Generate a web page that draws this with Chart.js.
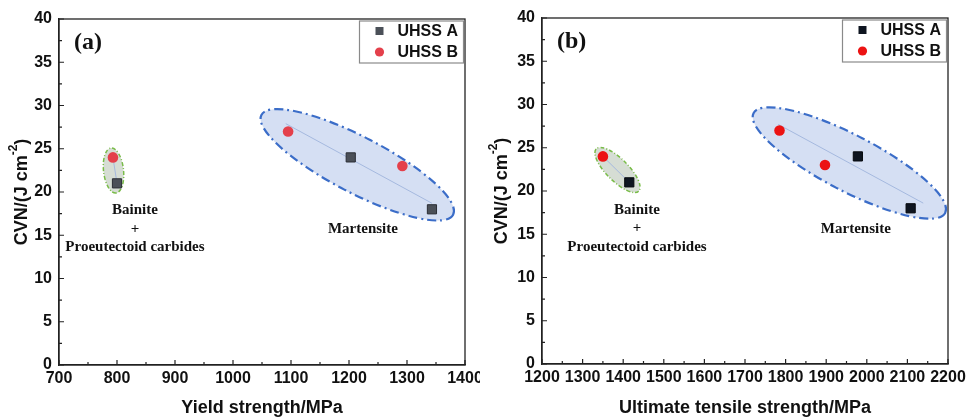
<!DOCTYPE html>
<html>
<head>
<meta charset="utf-8">
<script src="https://cdn.jsdelivr.net/npm/chart.js@4/dist/chart.umd.min.js"></script>
<style>
  html, body { margin: 0; padding: 0; background: #fff; }
  #wrap { position: relative; width: 966px; height: 418px; }
  .panel { position: absolute; top: 0; height: 418px; }
  #panelA { left: 0; width: 480px; }
  #panelB { left: 480px; width: 486px; }
</style>
</head>
<body>
<div id="wrap">
  <div class="panel" id="panelA"><canvas id="chartA" width="480" height="418"></canvas></div>
  <div class="panel" id="panelB"><canvas id="chartB" width="486" height="418"></canvas></div>
</div>
<script>
// values
const seriesNames = ["UHSS A", "UHSS B"];
const cvnA = [21, 24, 18]; // J cm-2
const cvnB = [24, 27, 23];
const yieldA = [800, 1203, 1343]; // MPa
const yieldB = [793, 1095, 1292];
const utsA = [1415, 1978, 2108];
const utsB = [1350, 1785, 1897];

// trend lines inside the shaded groups
const yieldMartX = [1091, 1343], yieldMartY = [27.9, 18.7];
const yieldBainX = [793, 800], yieldBainY = [24, 21];
const utsMartX = [1782, 2139], utsMartY = [27.7, 18.6];
const utsBainX = [1350, 1415], utsBainY = [24, 21];

// axis ranges: min, max, step
const cvnRange = [0, 40, 5];
const yieldRange = [700, 1400, 100];
const utsRange = [1200, 2200, 100];

const pts = (xs, ys) => xs.map((x, i) => ({ x: x, y: ys[i] }));

Chart.defaults.font.family = "'Liberation Sans', Arial, sans-serif";

const deco = {
  id: "deco",
  beforeDatasetsDraw(chart, args, o) {
    const ctx = chart.ctx, xs = chart.scales.x, ys = chart.scales.y;
    for (const e of o.ellipses) {
      const x1 = xs.getPixelForValue(e.from[0]), y1 = ys.getPixelForValue(e.from[1]);
      const x2 = xs.getPixelForValue(e.to[0]), y2 = ys.getPixelForValue(e.to[1]);
      ctx.save();
      ctx.beginPath();
      ctx.ellipse((x1 + x2) / 2, (y1 + y2) / 2, Math.hypot(x2 - x1, y2 - y1) / 2, e.minor,
        Math.atan2(y2 - y1, x2 - x1), 0, Math.PI * 2);
      ctx.fillStyle = e.fill;
      ctx.fill();
      ctx.setLineDash(e.dash);
      ctx.lineWidth = e.width;
      ctx.strokeStyle = e.stroke;
      ctx.stroke();
      ctx.restore();
    }
  },
  afterDraw(chart, args, o) {
    const ctx = chart.ctx, a = chart.chartArea, xs = chart.scales.x, ys = chart.scales.y;
    ctx.save();
    // box round the plot
    ctx.strokeStyle = "#222";
    ctx.lineWidth = 1.3;
    ctx.strokeRect(a.left, a.top, a.right - a.left, a.bottom - a.top);

    // ticks pointing inwards, minor ones half way
    ctx.lineWidth = 1.2;
    const marks = (scale, draw) => {
      const v = scale.ticks.map((t) => t.value);
      v.forEach((val, i) => {
        draw(scale.getPixelForValue(val), 5);
        if (i < v.length - 1) draw(scale.getPixelForValue((val + v[i + 1]) / 2), 3);
      });
    };
    ctx.beginPath();
    marks(xs, (p, len) => { ctx.moveTo(p, a.bottom); ctx.lineTo(p, a.bottom - len); });
    marks(ys, (p, len) => { ctx.moveTo(a.left, p); ctx.lineTo(a.left + len, p); });
    ctx.stroke();

    // group names
    ctx.fillStyle = "#111";
    ctx.font = "bold 15px 'Liberation Serif', 'Times New Roman', serif";
    ctx.textAlign = "center";
    ctx.textBaseline = "middle";
    for (const l of o.labels) {
      const px = xs.getPixelForValue(l.at[0]), py = ys.getPixelForValue(l.at[1]);
      l.lines.forEach((t, i) => ctx.fillText(t, px, py + i * 18.5));
    }

    // panel letter
    ctx.font = "bold 24px 'Liberation Serif', 'Times New Roman', serif";
    ctx.textAlign = "left";
    ctx.fillText(o.letter, a.left + 15, a.top + 24);

    // axis titles
    ctx.font = "bold 18px 'Liberation Sans', Arial, sans-serif";
    ctx.textAlign = "center";
    ctx.fillText(o.xTitle, (a.left + a.right) / 2, 408);

    ctx.save();
    ctx.translate(22, (a.top + a.bottom) / 2);
    ctx.rotate(-Math.PI / 2);
    const main = "CVN/(J cm", sup = "-2", close = ")";
    const bigF = "bold 18px 'Liberation Sans', Arial, sans-serif";
    const smallF = "bold 12px 'Liberation Sans', Arial, sans-serif";
    ctx.font = bigF;
    const w1 = ctx.measureText(main).width, w3 = ctx.measureText(close).width;
    ctx.font = smallF;
    const w2 = ctx.measureText(sup).width;
    let x = -(w1 + w2 + w3) / 2;
    ctx.textAlign = "left";
    ctx.font = bigF;
    ctx.fillText(main, x, 0);
    x += w1;
    ctx.font = smallF;
    ctx.fillText(sup, x, -8);
    x += w2;
    ctx.font = bigF;
    ctx.fillText(close, x, 0);
    ctx.restore();

    // legend box
    const bw = 104, bh = 42;
    const bx = a.right - 1.5 - bw, by = a.top + 2;
    ctx.fillStyle = "#fff";
    ctx.fillRect(bx, by, bw, bh);
    ctx.strokeStyle = "#8a8a8a";
    ctx.lineWidth = 1.2;
    ctx.strokeRect(bx, by, bw, bh);
    const sets = chart.data.datasets.filter((d) => seriesNames.includes(d.label));
    sets.forEach((d, i) => {
      const cy = by + 10 + i * 21, cx = bx + 20;
      ctx.fillStyle = d.backgroundColor;
      ctx.beginPath();
      if (d.pointStyle === "rect") ctx.rect(cx - 4, cy - 4, 8, 8);
      else ctx.arc(cx, cy, 4.6, 0, Math.PI * 2);
      ctx.fill();
      ctx.fillStyle = "#111";
      ctx.font = "bold 16px 'Liberation Sans', Arial, sans-serif";
      ctx.textAlign = "left";
      ctx.textBaseline = "middle";
      ctx.fillText(d.label, bx + 38, cy + 1);
    });
    ctx.restore();
  },
};

function makeChart(id, o) {
  const tickFont = { size: 16, weight: "bold" };
  const plain = (v) => String(v);
  return new Chart(document.getElementById(id), {
    type: "scatter",
    data: {
      datasets: [
        { label: "trend", type: "line", data: pts(o.martX, o.martY), borderColor: "#a5b9df",
          borderWidth: 1, pointRadius: 0, order: 3 },
        { label: "trend2", type: "line", data: pts(o.bainX, o.bainY), borderColor: "#a5b9df",
          borderWidth: 1, pointRadius: 0, order: 3 },
        { label: seriesNames[0], data: pts(o.xA, cvnA), pointStyle: "rect", pointRadius: 6.5,
          backgroundColor: o.colA, borderColor: o.edgeA, borderWidth: 1, order: 1 },
        { label: seriesNames[1], data: pts(o.xB, cvnB), pointStyle: "circle", pointRadius: 5.3,
          backgroundColor: o.colB, borderColor: o.colB, borderWidth: 0, order: 1 },
      ],
    },
    options: {
      responsive: false,
      animation: false,
      layout: { padding: { top: o.top, right: o.right, left: 0, bottom: 0 } },
      plugins: {
        legend: { display: false },
        tooltip: { enabled: false },
        deco: { ellipses: o.ellipses, labels: o.labels, letter: o.letter, xTitle: o.xTitle },
      },
      scales: {
        x: {
          type: "linear", min: o.xRange[0], max: o.xRange[1],
          ticks: { stepSize: o.xRange[2], font: tickFont, color: "#111", padding: 4,
            maxRotation: 0, autoSkip: false, callback: plain },
          grid: { display: false, drawTicks: false },
          border: { color: "#222", width: 1.3 },
          afterFit(s) { s.height = o.xH; s.paddingLeft = 0; s.paddingRight = 0; },
        },
        y: {
          min: cvnRange[0], max: cvnRange[1],
          ticks: { stepSize: cvnRange[2], font: tickFont, color: "#111", padding: 7, callback: plain },
          grid: { display: false, drawTicks: false },
          border: { color: "#222", width: 1.3 },
          afterFit(s) { s.width = o.yW; s.paddingTop = 0; s.paddingBottom = 0; },
        },
      },
    },
    plugins: [deco],
  });
}

const blueZone = { fill: "#d5dff3", stroke: "#3b6dc8", width: 2.2, dash: [9, 4, 2, 4] };
const greenZone = { fill: "#d6ddd4", stroke: "#79bc48", width: 1.5, dash: [4, 2, 1, 2] };

makeChart("chartA", {
  xA: yieldA, xB: yieldB, xRange: yieldRange,
  martX: yieldMartX, martY: yieldMartY, bainX: yieldBainX, bainY: yieldBainY,
  colA: "#4b5058", edgeA: "#2b2e35", colB: "#e4404b",
  top: 19, right: 15, xH: 53, yW: 59,
  letter: "(a)", xTitle: "Yield strength/MPa",
  ellipses: [
    Object.assign({ from: [1049, 28.91], to: [1379.5, 17.38], minor: 28 }, blueZone),
    Object.assign({ from: [789.7, 25.09], to: [798.3, 19.88], minor: 10 }, greenZone),
  ],
  labels: [
    { at: [831, 17.9], lines: ["Bainite", "+", "Proeutectoid carbides"] },
    { at: [1224, 15.7], lines: ["Martensite"] },
  ],
});

makeChart("chartB", {
  xA: utsA, xB: utsB, xRange: utsRange,
  martX: utsMartX, martY: utsMartY, bainX: utsBainX, bainY: utsBainY,
  colA: "#0e1520", edgeA: "#05080c", colB: "#ec1313",
  top: 18, right: 18, xH: 54, yW: 62,
  letter: "(b)", xTitle: "Ultimate tensile strength/MPa",
  ellipses: [
    Object.assign({ from: [1721, 29.0], to: [2193, 17.47], minor: 28 }, blueZone),
    Object.assign({ from: [1333.7, 24.88], to: [1438.1, 19.98], minor: 11 }, greenZone),
  ],
  labels: [
    { at: [1434, 17.8], lines: ["Bainite", "+", "Proeutectoid carbides"] },
    { at: [1973, 15.6], lines: ["Martensite"] },
  ],
});
</script>
</body>
</html>
